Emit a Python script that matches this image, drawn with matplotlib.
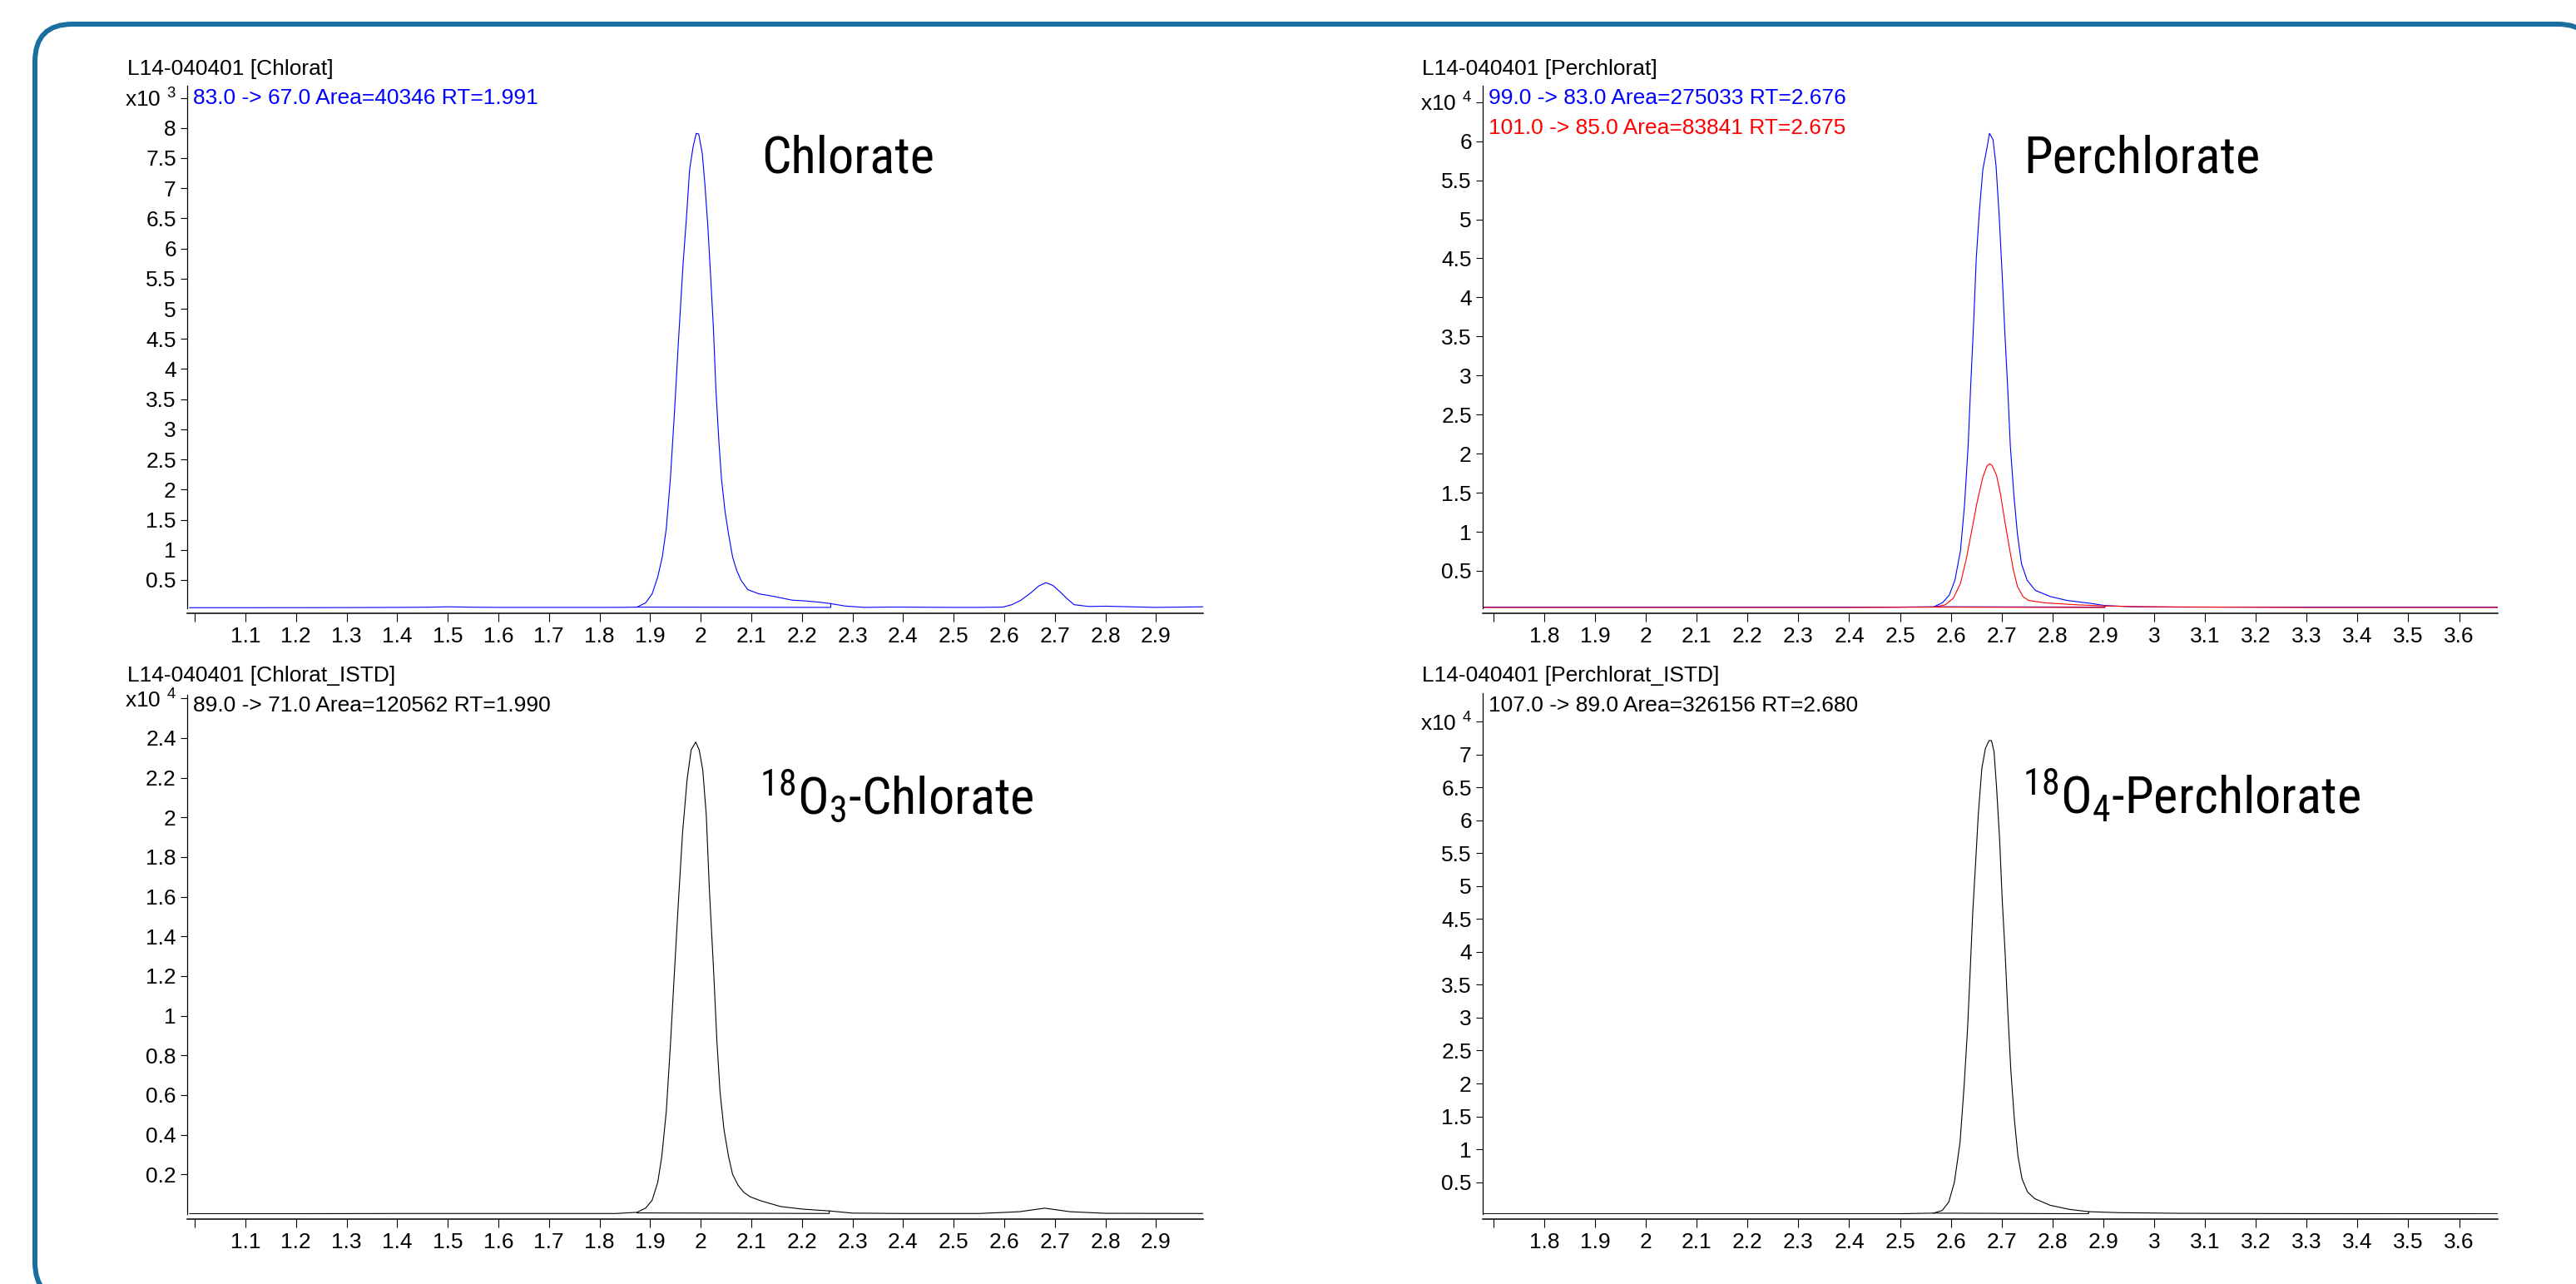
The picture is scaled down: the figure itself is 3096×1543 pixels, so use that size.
import matplotlib
matplotlib.use("Agg")
import matplotlib.pyplot as plt
from matplotlib import font_manager
from matplotlib.font_manager import FontProperties
from matplotlib.patches import PathPatch
from matplotlib.path import Path
from matplotlib.transforms import IdentityTransform
import numpy as np

# ---- data (time in min, intensity in display units) ----
# Chlorate 83.0 -> 67.0 (x10^3)
chlorate_t = [0.99, 1.10, 1.20, 1.30, 1.40, 1.46, 1.50, 1.55, 1.60, 1.70, 1.80, 1.85, 1.874,
              1.891, 1.904, 1.915, 1.924, 1.932, 1.940, 1.948, 1.956, 1.965, 1.972, 1.978,
              1.985, 1.991, 1.996, 2.003, 2.008, 2.014, 2.019, 2.025, 2.030, 2.036, 2.041,
              2.048, 2.055, 2.063, 2.071, 2.080, 2.093, 2.115, 2.143, 2.160, 2.181, 2.210,
              2.236, 2.255, 2.285, 2.324, 2.37, 2.40, 2.45, 2.50, 2.55, 2.597, 2.615, 2.632,
              2.653, 2.668, 2.682, 2.696, 2.710, 2.724, 2.738, 2.767, 2.80, 2.85, 2.90, 2.95, 2.993]
chlorate_y = [0.040, 0.040, 0.041, 0.042, 0.045, 0.048, 0.055, 0.048, 0.045, 0.045, 0.045, 0.046, 0.05,
              0.12, 0.27, 0.55, 0.88, 1.36, 2.18, 3.27, 4.47, 5.73, 6.54, 7.31,
              7.69, 7.91, 7.90, 7.58, 7.09, 6.38, 5.62, 4.69, 3.66, 2.78, 2.18,
              1.64, 1.26, 0.88, 0.66, 0.49, 0.34, 0.27, 0.23, 0.20, 0.165, 0.15,
              0.13, 0.11, 0.068, 0.045, 0.05, 0.05, 0.047, 0.045, 0.045, 0.05, 0.09, 0.16,
              0.29, 0.40, 0.455, 0.41, 0.305, 0.19, 0.09, 0.06, 0.065, 0.055, 0.045, 0.05, 0.055]
chlorate_base_t = [1.874, 2.257, 2.257]
chlorate_base_y = [0.05, 0.045, 0.11]

# Perchlorate 99.0 -> 83.0 (blue) and 101.0 -> 85.0 (red), x10^4
perchlorate_t = [1.68, 1.80, 2.00, 2.20, 2.40, 2.491, 2.567, 2.584, 2.597, 2.608, 2.619, 2.627,
                 2.634, 2.639, 2.645, 2.650, 2.656, 2.663, 2.671, 2.676, 2.683, 2.689, 2.695,
                 2.701, 2.706, 2.712, 2.717, 2.724, 2.731, 2.739, 2.750, 2.766, 2.796, 2.829,
                 2.873, 2.903, 2.955, 3.05, 3.20, 3.40, 3.60, 3.676]
perchlorate_y = [0.035, 0.035, 0.035, 0.035, 0.035, 0.035, 0.04, 0.094, 0.19, 0.38, 0.76, 1.35,
                 2.10, 2.86, 3.70, 4.50, 5.09, 5.64, 5.91, 6.10, 6.02, 5.68, 5.05,
                 4.29, 3.58, 2.82, 2.10, 1.47, 0.97, 0.59, 0.38, 0.25, 0.17, 0.12,
                 0.085, 0.055, 0.04, 0.035, 0.035, 0.035, 0.035, 0.035]
perchlorate_q_t = [1.68, 2.00, 2.40, 2.567, 2.589, 2.605, 2.619, 2.630, 2.641, 2.652, 2.663,
                   2.671, 2.676, 2.681, 2.690, 2.698, 2.706, 2.715, 2.723, 2.731, 2.742, 2.753,
                   2.785, 2.846, 2.903, 2.982, 3.30, 3.676]
perchlorate_q_y = [0.03, 0.03, 0.03, 0.035, 0.065, 0.15, 0.34, 0.64, 1.01, 1.39, 1.70,
                   1.84, 1.87, 1.85, 1.72, 1.47, 1.14, 0.80, 0.51, 0.30, 0.17, 0.12,
                   0.09, 0.065, 0.05, 0.04, 0.03, 0.03]
perchlorate_base_t = [2.567, 2.903, 2.903]
perchlorate_base_y = [0.04, 0.035, 0.055]
perchlorate_q_base_y = [0.035, 0.03, 0.05]

# Chlorate ISTD 89.0 -> 71.0 (x10^4)
chlorate_istd_t = [0.99, 1.20, 1.40, 1.60, 1.80, 1.831, 1.874, 1.891, 1.904, 1.915, 1.923, 1.932,
                   1.940, 1.948, 1.956, 1.964, 1.973, 1.981, 1.990, 1.997, 2.004, 2.011, 2.017,
                   2.025, 2.032, 2.038, 2.046, 2.055, 2.063, 2.074, 2.085, 2.098, 2.120, 2.158,
                   2.202, 2.254, 2.30, 2.40, 2.55, 2.63, 2.68, 2.73, 2.80, 2.993]
chlorate_istd_y = [0.002, 0.002, 0.003, 0.003, 0.003, 0.003, 0.009, 0.03, 0.07, 0.16, 0.29, 0.52,
                   0.85, 1.22, 1.58, 1.92, 2.19, 2.34, 2.38, 2.34, 2.24, 2.01, 1.64,
                   1.25, 0.87, 0.62, 0.425, 0.29, 0.20, 0.145, 0.11, 0.087, 0.066, 0.038,
                   0.025, 0.016, 0.005, 0.003, 0.003, 0.012, 0.03, 0.012, 0.004, 0.003]
chlorate_istd_base_t = [1.874, 2.254, 2.254]
chlorate_istd_base_y = [0.006, 0.003, 0.016]

# Perchlorate ISTD 107.0 -> 89.0 (x10^4)
perchlorate_istd_t = [1.68, 2.0, 2.3, 2.496, 2.566, 2.583, 2.596, 2.607, 2.618, 2.626, 2.633,
                      2.638, 2.643, 2.649, 2.654, 2.661, 2.668, 2.675, 2.680, 2.685, 2.690,
                      2.696, 2.701, 2.707, 2.712, 2.718, 2.725, 2.732, 2.740, 2.751, 2.765,
                      2.795, 2.833, 2.871, 2.930, 3.05, 3.3, 3.676]
perchlorate_istd_y = [0.02, 0.02, 0.02, 0.02, 0.03, 0.07, 0.20, 0.50, 1.10, 1.95, 2.85,
                      3.70, 4.59, 5.39, 6.09, 6.79, 7.09, 7.21, 7.21, 7.04, 6.49,
                      5.70, 4.80, 3.95, 3.10, 2.20, 1.45, 0.90, 0.55, 0.35, 0.25,
                      0.15, 0.087, 0.052, 0.037, 0.027, 0.022, 0.02]
perchlorate_istd_base_t = [2.566, 2.871, 2.871]
perchlorate_istd_base_y = [0.03, 0.02, 0.052]

# ---- layout ----
W, H = 3096, 1543
plt.rcParams['font.family'] = ['Liberation Sans', 'DejaVu Sans']
plt.rcParams['mathtext.default'] = 'regular'
plt.rcParams['savefig.bbox'] = 'standard'
SMALL = 19


def condensed_font():
    # look for a narrow / condensed sans face for the big compound labels
    prefs = ['Liberation Sans Narrow', 'Roboto Condensed', 'Open Sans Condensed',
             'Noto Sans Condensed', 'DejaVu Sans Condensed']
    faces = [f for f in font_manager.fontManager.ttflist
             if f.style == 'normal' and f.weight in (400, 'normal', 'regular', 'book')]
    for p in prefs:
        for f in faces:
            if f.name == p:
                return f.fname
    for f in faces:
        if 'Sans' in f.name and (f.stretch in ('condensed', 'semi-condensed')
                                 or 'Narrow' in f.name or 'Condensed' in f.name):
            return f.fname
    return None


fname = condensed_font()
big_prop = FontProperties(fname=fname) if fname else FontProperties(family='Liberation Sans')

fig = plt.figure(figsize=(W / 100, H / 100), dpi=100)

# size the compound labels so "Chlorate" spans about 203 px, like the original
probe = fig.text(0, 0, "Chlorate", fontproperties=big_prop, fontsize=46)
probe_w = probe.get_window_extent(renderer=fig.canvas.get_renderer()).width
probe.remove()
BIG = 0.5 * (46 + 46 * 203 / probe_w)
big_prop.set_size(BIG)


def px_axes(x0, y0, x1, y1):
    return fig.add_axes([x0 / W, 1 - y1 / H, (x1 - x0) / W, (y1 - y0) / H])


def style_axes(ax, xlim, ylim, xticks, yticks, exponent):
    ax.set_xlim(*xlim)
    ax.set_ylim(*ylim)
    for s in ("top", "right"):
        ax.spines[s].set_visible(False)
    ax.spines["bottom"].set_position(("outward", 4.5))
    ax.spines["left"].set_linewidth(0.9)
    ax.spines["bottom"].set_linewidth(1.1)
    ax.set_xticks(xticks)
    ax.set_xticklabels([""] + [f"{v:g}" for v in xticks[1:]])
    ax.set_yticks(yticks)
    ax.set_yticklabels([f"{v:g}" for v in yticks[:-1]] + [f"x10 $^{{{exponent}}}$"])
    ax.tick_params(axis="x", direction="out", length=7, width=0.8, pad=4, labelsize=SMALL)
    ax.tick_params(axis="y", direction="out", length=5.5, width=0.8, pad=4, labelsize=SMALL)
    ax.set_facecolor("none")


lw = 0.8

# top-left: Chlorat
ax1 = px_axes(225, 103, 1446, 731)
ax1.plot(chlorate_t, chlorate_y, color="#0000ff", lw=lw)
ax1.plot(chlorate_base_t, chlorate_base_y, color="#0000ff", lw=lw)
style_axes(ax1, (0.985, 2.993), (0.03, 1.1 * max(chlorate_y)),
           np.round(np.arange(1.0, 2.95, 0.1), 1), np.arange(0.5, 8.51, 0.5), 3)

# top-right: Perchlorat
ax2 = px_axes(1782, 103, 3002, 731)
ax2.plot(perchlorate_t, perchlorate_y, color="#0000ff", lw=lw)
ax2.plot(perchlorate_q_t, perchlorate_q_y, color="#ff0000", lw=lw)
ax2.plot(perchlorate_base_t, perchlorate_base_y, color="#0000ff", lw=lw)
ax2.plot(perchlorate_base_t, perchlorate_q_base_y, color="#ff0000", lw=lw)
style_axes(ax2, (1.679, 3.676), (0.02, 1.1 * max(perchlorate_y)),
           np.round(np.arange(1.7, 3.65, 0.1), 1), np.arange(0.5, 6.51, 0.5), 4)

# bottom-left: Chlorat_ISTD
ax3 = px_axes(225, 835, 1446, 1459)
ax3.plot(chlorate_istd_t, chlorate_istd_y, color="black", lw=lw)
ax3.plot(chlorate_istd_base_t, chlorate_istd_base_y, color="black", lw=lw)
style_axes(ax3, (0.985, 2.993), (0.0, 1.1 * max(chlorate_istd_y)),
           np.round(np.arange(1.0, 2.95, 0.1), 1), np.round(np.arange(0.2, 2.61, 0.2), 1), 4)

# bottom-right: Perchlorat_ISTD
ax4 = px_axes(1782, 833, 3002, 1459)
ax4.plot(perchlorate_istd_t, perchlorate_istd_y, color="black", lw=lw)
ax4.plot(perchlorate_istd_base_t, perchlorate_istd_base_y, color="black", lw=lw)
style_axes(ax4, (1.679, 3.676), (0.015, 1.1 * max(perchlorate_istd_y)),
           np.round(np.arange(1.7, 3.65, 0.1), 1), np.arange(0.5, 7.51, 0.5), 4)


def ftext(x, y, s, **kw):
    fig.text(x / W, 1 - y / H, s, **kw)


# sample titles
ftext(153, 83, "L14-040401 [Chlorat]", fontsize=SMALL, va="center")
ftext(1709, 83, "L14-040401 [Perchlorat]", fontsize=SMALL, va="center")
ftext(153, 812, "L14-040401 [Chlorat_ISTD]", fontsize=SMALL, va="center")
ftext(1709, 812, "L14-040401 [Perchlorat_ISTD]", fontsize=SMALL, va="center")

# transition annotations
ftext(232, 118, "83.0 -> 67.0 Area=40346 RT=1.991", fontsize=SMALL, va="center", color="#0000ff")
ftext(1789, 118, "99.0 -> 83.0 Area=275033 RT=2.676", fontsize=SMALL, va="center", color="#0000ff")
ftext(1789, 154, "101.0 -> 85.0 Area=83841 RT=2.675", fontsize=SMALL, va="center", color="#ff0000")
ftext(232, 848, "89.0 -> 71.0 Area=120562 RT=1.990", fontsize=SMALL, va="center")
ftext(1789, 848, "107.0 -> 89.0 Area=326156 RT=2.680", fontsize=SMALL, va="center")

# compound labels
ftext(915, 207, "Chlorate", fontproperties=big_prop, va="baseline")
ftext(2432, 207, "Perchlorate", fontproperties=big_prop, va="baseline")
ftext(913, 978, "$^{18}$O$_{3}$-Chlorate", fontproperties=big_prop, va="baseline")
ftext(2431, 978, "$^{18}$O$_{4}$-Perchlorate", fontproperties=big_prop, va="baseline")

# blue rounded frame: only its top and left sides fall inside the picture,
# so draw it as an open path (right edge -> top -> left -> bottom edge)
fl, fr, ft, fb, r = 42, 3119, 29, 1562, 45
frame_path = Path(
    [(fr, H - ft - r), (fr, H - ft), (fr - r, H - ft),
     (fl + r, H - ft),
     (fl, H - ft), (fl, H - ft - r),
     (fl, H - fb + r),
     (fl, H - fb), (fl + r, H - fb)],
    [Path.MOVETO, Path.CURVE3, Path.CURVE3,
     Path.LINETO,
     Path.CURVE3, Path.CURVE3,
     Path.LINETO,
     Path.CURVE3, Path.CURVE3])
frame = PathPatch(frame_path, transform=IdentityTransform(), fill=False,
                  edgecolor="#1a6ea0", linewidth=4.3)
fig.patches.append(frame)

fig.savefig("out.png", dpi=100, facecolor="white", bbox_inches=None)
